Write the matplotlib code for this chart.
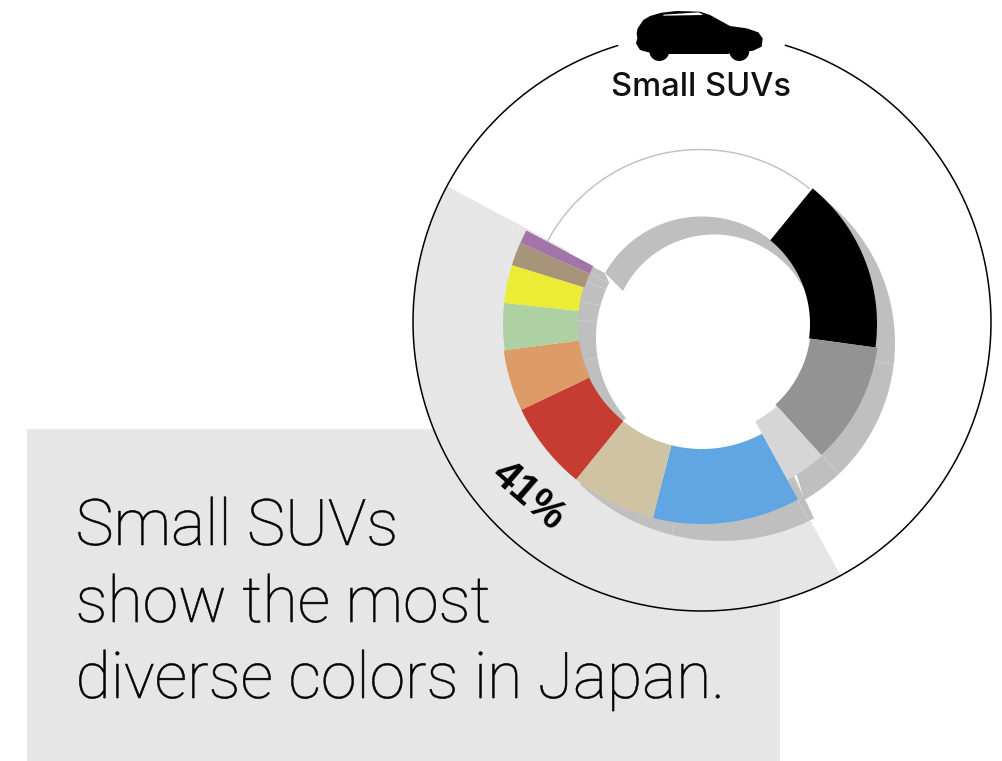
#!/usr/bin/env python3
# Colour share donut for small SUVs in Japan, drawn in pixel space.
import numpy as np
import matplotlib
matplotlib.use('Agg')
import matplotlib.pyplot as plt
import matplotlib.patheffects as pe
from matplotlib.patches import Polygon, Rectangle, Circle

# ------------------------------------------------------------------------------
# Data: share of each body colour (%), clockwise from the black slice
# ------------------------------------------------------------------------------
color_names = ['black', 'gray', 'silver', 'blue', 'beige', 'red', 'orange',
               'green', 'yellow', 'brown', 'purple', 'white']
shares = [16.25, 11.1, 3.8, 11.9, 6.9, 7.1, 4.95, 3.8, 3.1, 1.9, 1.1, 28.1]
highlight_label = '41%'
highlight_first = 3
highlight_last = 10

# Benchmark ring: white divider lines (deg clockwise from north)
divider_angles = [102, 137.6, 149.5, 151.5, 188, 252.5, 271.5, 280.5, 290, 294]

# ------------------------------------------------------------------------------
# Styles and layout
# ------------------------------------------------------------------------------
slice_colors = ['#000000', '#939393', '#d6d6d6', '#5fa6e2', '#d0c3a3',
                '#c63b32', '#dd9b68', '#aed1a3', '#ecec37', '#a89479',
                '#a374a8', '#ffffff']
slice_inner = [108, 109, 111, 125, 125, 125, 124, 124, 124, 123, 123, 108]
slice_outer = [175, 177, 178, 200, 200, 200, 200, 199, 199, 199, 199, 172]
divider_r0 = [176, 178, 180, 200, 203, 110, 106, 103, 103, 102]
divider_r1 = [195, 201, 198, 223, 213, 123, 124, 122, 120, 120]
RING_GRAY = '#bfbfbf'
DIVIDER = '#d2d2d2'
PANEL = '#e6e6e6'
CX, CY = 702, 322     # frame circle
PX, PY = 702, 324     # pivot of the slices
R_FRAME = 289
START = 39.2


def polar(r, a, cx=PX, cy=PY):
    t = np.radians(a)
    return np.column_stack([cx + r * np.sin(t), cy - r * np.cos(t)])


def arc(r, a0, a1, cx=PX, cy=PY):
    return polar(r, np.linspace(a0, a1, 200), cx, cy)


def fill(ax, pts, color, z):
    ax.add_patch(Polygon(pts, closed=True, fc=color, ec='none', zorder=z))


fig = plt.figure(figsize=(10.03, 7.61), dpi=100)
ax = fig.add_axes([0, 0, 1, 1])
ax.set_xlim(0, 1003)
ax.set_ylim(761, 0)
ax.axis('off')

# Text panel, then the frame disc on top of it
ax.add_patch(Rectangle((27, 429), 753, 332, fc=PANEL, ec='none', zorder=1))
ax.add_patch(Circle((CX, CY), R_FRAME, fc='white', ec='none', zorder=2))

edges = START + np.cumsum([0] + shares) * 3.6

# Highlight sector behind the coloured group
a_hi0, a_hi1 = edges[highlight_first], edges[highlight_last + 1]
fill(ax, np.vstack([arc(R_FRAME, a_hi0, a_hi1, CX, CY),
                    arc(150, a_hi1, a_hi0, CX, CY)]), PANEL, 3)

# Benchmark ring pieces, each with its own slightly shifted circles
# right side and lower right
fill(ax, np.vstack([arc(181, 40, 150, 714, 343), arc(130, 145, 40, 714, 343)]),
     RING_GRAY, 4)
# narrow piece and the long lower arc
fill(ax, np.vstack([arc(203, 152.7, 224, 721, 338),
                    arc(150, 224, 152, 721, 338)]), RING_GRAY, 4)
# left side
fill(ax, np.vstack([polar(110, np.array([297.7])),
                    arc(122, 297, 229, 718, 338),
                    arc(144, 229, 299.6, 718, 338)]), RING_GRAY, 4)
# top
fill(ax, np.vstack([arc(111.5, -60.4, 60, 702, 328),
                    arc(101.5, 62, -63.7, 714, 336)]), RING_GRAY, 4)
# thin line on the rim of the white slice
ax.plot(*arc(172.5, edges[11], edges[12], 700, 322).T, color=RING_GRAY, lw=1.0,
        zorder=6)

# Coloured slices
for i, name in enumerate(color_names[:-1]):
    pts = np.vstack([arc(slice_outer[i], edges[i], edges[i + 1]),
                     arc(slice_inner[i], edges[i + 1], edges[i])])
    fill(ax, pts, slice_colors[i], 7)

# Dividers in the benchmark ring
for a, r0, r1 in zip(divider_angles, divider_r0, divider_r1):
    ax.plot(*polar(np.array([r0, r1]), np.array([a, a])).T, color=DIVIDER,
            lw=0.5, zorder=5)

# Frame line, open at the top for the car icon
ax.plot(*arc(R_FRAME, 16.8, 343, CX, CY).T, color='black', lw=1.1, zorder=8)

# Car silhouette
car_x = np.array([110, 113, 130, 150, 185, 230, 300, 330, 390, 440, 475, 488,
                  485, 460, 380, 210, 145, 120, 108, 112]) / 3 + 600
car_y = np.array([100, 85, 60, 48, 38, 33, 35, 45, 78, 85, 97, 115, 140, 152,
                  162, 162, 157, 150, 130, 115]) / 3
fill(ax, np.column_stack([car_x, car_y]), 'black', 9)
ax.add_patch(Circle((659.3, 51), 10, fc='black', ec='none', zorder=9))
ax.add_patch(Circle((739.3, 51), 10, fc='black', ec='none', zorder=9))
win_x = np.array([190, 297, 310, 190]) / 3 + 600
win_y = np.array([44, 37, 45, 47]) / 3
fill(ax, np.column_stack([win_x, win_y]), 'white', 10)

# Text
ax.text(701.5, 96, 'Small SUVs', family='Inter', weight='medium', fontsize=23.5,
        ha='center', va='baseline', color='#111111', zorder=10)
ax.text(528, 496, highlight_label, family='Liberation Sans', weight='bold',
        fontsize=30, ha='center', va='center', rotation=-41,
        rotation_mode='anchor', color='black', zorder=10)
lines = ['Small SUVs', 'show the most', 'diverse colors in Japan.']
for line, y in zip(lines, [545, 622, 698]):
    # light face with a hairline outline for a slightly firmer stroke
    ax.text(75.5, y, line, family='Roboto', weight='light', fontsize=46.3,
            ha='left', va='baseline', color='black', zorder=10,
            path_effects=[pe.Stroke(linewidth=0.4, foreground='black')])

fig.savefig('out.png', dpi=100)
